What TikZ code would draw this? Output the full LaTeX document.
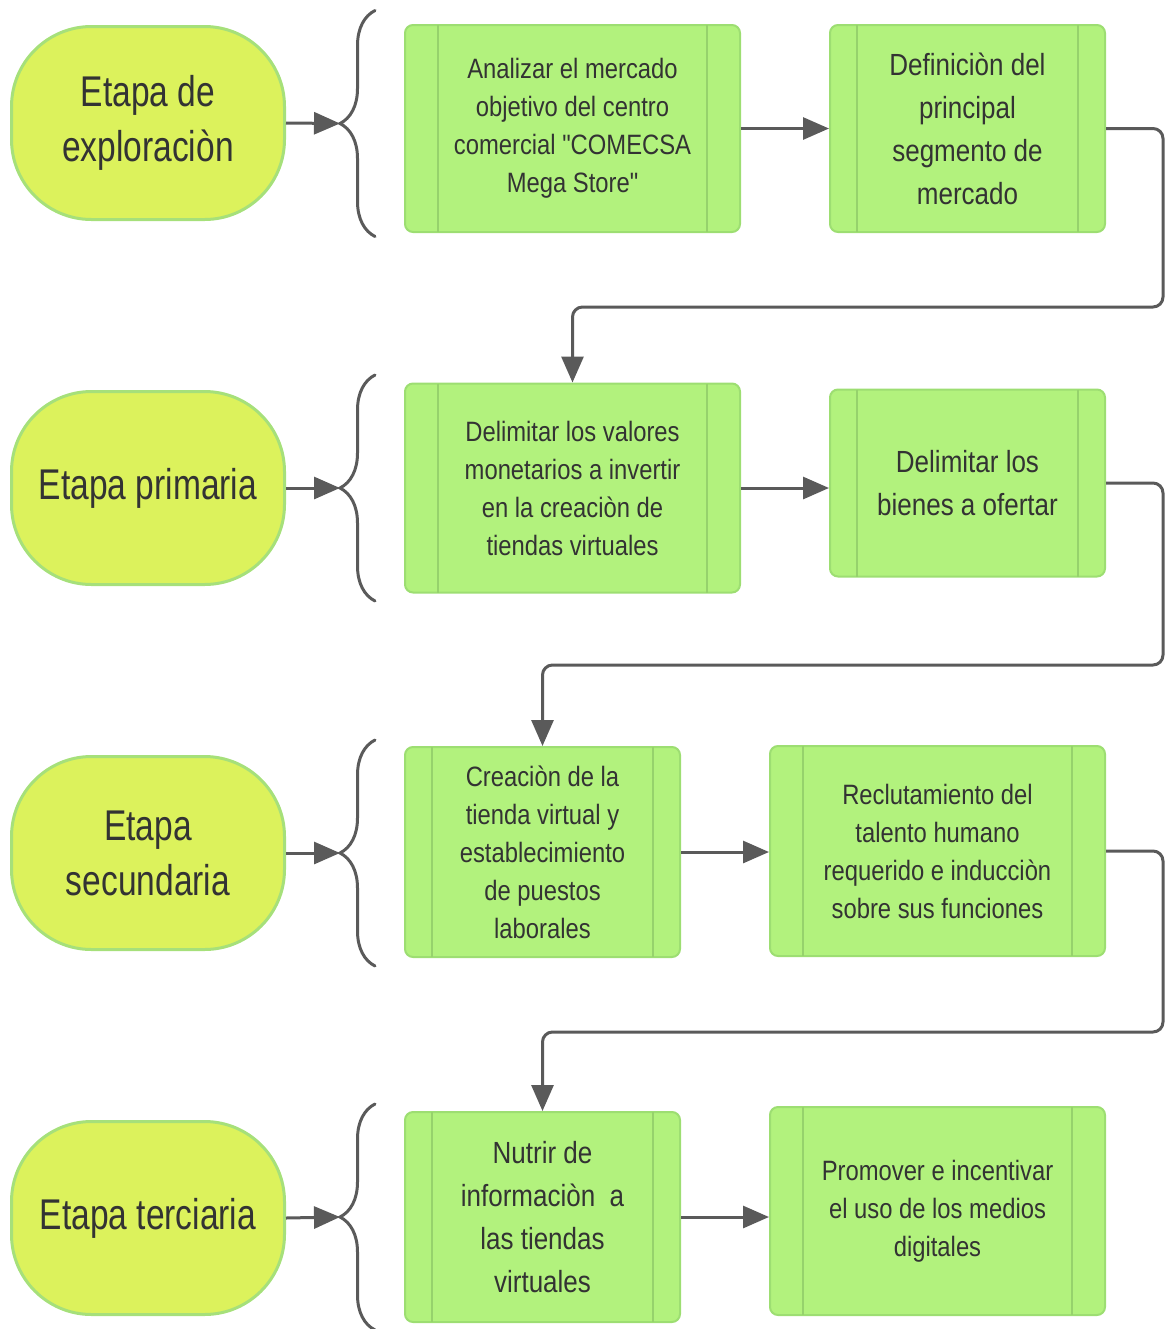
\documentclass[tikz,border=0pt]{standalone}
\usepackage{fontspec}
\setmainfont{Liberation Sans}[FakeStretch=0.85]
\newfontfamily\boxfont{Liberation Sans}[FakeStretch=0.85]
\newfontfamily\stagefont{Liberation Sans}[FakeStretch=0.78]
\usetikzlibrary{arrows.meta, positioning, calc, decorations.pathreplacing}

\definecolor{stagefill}{HTML}{DCF25C}
\definecolor{stageedge}{HTML}{A6E07A}
\definecolor{boxfill}{HTML}{B2F27D}
\definecolor{boxedge}{HTML}{9DDE72}
\definecolor{sepline}{HTML}{96D26C}
\definecolor{linegray}{HTML}{5A5A5A}
\definecolor{textgray}{HTML}{333333}

\begin{document}
\begin{tikzpicture}[x=0.5pt, y=0.5pt, >={Triangle[length=13pt,width=11pt]},
        stage_block/.style={rectangle, draw=stageedge, line width=1.5pt, fill=stagefill, rounded corners=40pt, minimum width=136.5pt, minimum height=96.5pt, text=textgray, align=center, font=\stagefont\fontsize{21.5}{27.5}\selectfont},
        proc_block/.style={rectangle, draw=boxedge, line width=1pt, fill=boxfill, rounded corners=4pt, align=center, text=textgray, font=\boxfont\fontsize{14}{19}\selectfont},
        wide/.style={minimum width=167.5pt},
        narrow/.style={minimum width=137.5pt},
        big_text/.style={font=\boxfont\fontsize{15.3}{21.5}\selectfont},
        line/.style={draw=linegray, ->, line width=1.5pt},
        elbow/.style={line, rounded corners=5pt},
        brace_line/.style={draw=linegray, line width=1.5pt, line cap=round, decorate, decoration={brace, amplitude=17.5pt}},
        sep/.style={draw=sepline, line width=1pt}]

        \useasboundingbox (0,0) rectangle (1166,-1329);

        % Stages
        \node [stage_block] (s1) at (148,-123) {Etapa de\\exploraciòn};
        \node [stage_block] (s2) at (148,-488) {Etapa primaria};
        \node [stage_block] (s3) at (148,-853) {Etapa\\secundaria};
        \node [stage_block] (s4) at (148,-1218) {Etapa terciaria};

        % Steps of each stage
        \node [proc_block, wide, minimum height=103.5pt, right=59pt of s1, yshift=-2.75pt] (b1) {Analizar el mercado\\objetivo del centro\\comercial "COMECSA\\Mega Store"};
        \node [proc_block, narrow, big_text, minimum height=103.5pt, right=44pt of b1] (b2) {Definiciòn del\\principal\\segmento de\\mercado};

        \node [proc_block, wide, minimum height=104.5pt, right=59pt of s2] (b3) {Delimitar los valores\\monetarios a invertir\\en la creaciòn de\\tiendas virtuales};
        \node [proc_block, narrow, big_text, minimum height=93.5pt, right=44pt of b3, yshift=2.5pt] (b4) {Delimitar los\\bienes a ofertar};

        \node [proc_block, narrow, minimum height=105pt, right=59pt of s3, yshift=0.5pt] (b5) {Creaciòn de la\\tienda virtual y\\establecimiento\\de puestos\\laborales};
        \node [proc_block, wide, minimum height=105pt, right=44pt of b5, yshift=0.5pt] (b6) {Reclutamiento del\\talento humano\\requerido e inducciòn\\sobre sus funciones};

        \node [proc_block, narrow, big_text, minimum height=105pt, right=59pt of s4, yshift=0.5pt] (b7) {Nutrir de\\informaciòn\ \ a\\las tiendas\\virtuales};
        \node [proc_block, wide, minimum height=104pt, right=44pt of b7, yshift=3pt] (b8) {Promover e incentivar\\el uso de los medios\\digitales};

        % Inner side bars of the step boxes
        \foreach \n/\d in {b1/17, b2/14, b3/17, b4/14, b5/14, b6/17, b7/14, b8/17} {
            \draw [sep] ([xshift=\d pt, yshift=-0.5pt]\n.north west) -- ([xshift=\d pt, yshift=0.5pt]\n.south west);
            \draw [sep] ([xshift=-\d pt, yshift=-0.5pt]\n.north east) -- ([xshift=-\d pt, yshift=0.5pt]\n.south east);
        }

        % Braces and their tips
        \foreach \n/\y in {1/-123.5, 2/-488, 3/-853, 4/-1217} {
            \path [brace_line] (375,\y-113) -- (375,\y+113);
            \coordinate (tip\n) at (340,\y);
        }

        % Paths
        \path [line] (s1.east) -- (tip1);
        \path [line] (s2.east) -- (tip2);
        \path [line] (s3.east) -- (tip3);
        \path [line] (s4.east) -- (tip4);

        \path [line] (b1.east) -- (b1.east -| b2.west);
        \path [line] (b3.east) -- (b3.east -| b4.west);
        \path [line] (b5.east) -- (b5.east -| b6.west);
        \path [line] (b7.east) -- (b7.east -| b8.west);

        % Links from one stage to the next
        \coordinate (turn1) at (1163,-307);
        \coordinate (turn2) at (1163,-665);
        \coordinate (turn3) at (1163,-1032);
        \path [elbow] (b2.east) -| (turn1) -| (b3.north);
        \path [elbow] (b4.east) -| (turn2) -| (b5.north);
        \path [elbow] (b6.east) -| (turn3) -| (b7.north);
\end{tikzpicture}
\end{document}
